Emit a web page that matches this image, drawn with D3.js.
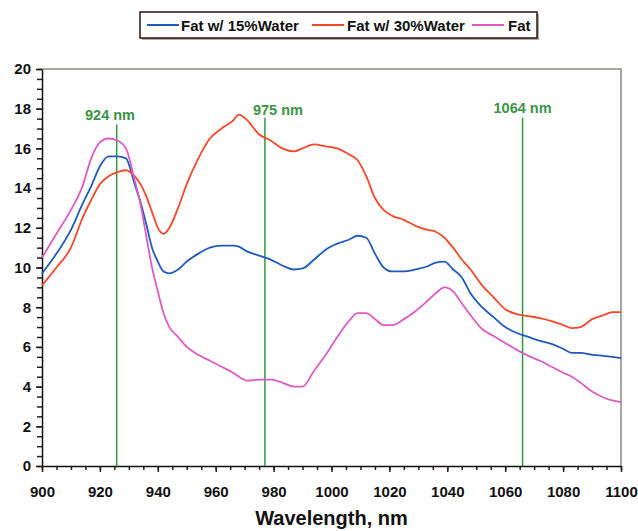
<!DOCTYPE html>
<html>
<head>
<meta charset="utf-8">
<script src="https://cdn.jsdelivr.net/npm/d3@7"></script>
<style>
  body { margin: 0; background: #fff; }
  svg { font-family: 'Liberation Sans', Arial, sans-serif; }
  .tick text { font-weight: bold; font-size: 15px; fill: #111; }
</style>
</head>
<body>
<div id="chart"></div>
<script>
'use strict'

// wavelengths (nm) sampled along the three curves
const wavelengths = [900, 905, 910, 914, 917, 920, 923, 926, 929, 932, 934, 936, 938, 940, 942, 944, 947, 950,
  954, 958, 962, 966, 968, 971, 975, 979, 983, 987, 990, 994, 998, 1002, 1006, 1009, 1012, 1015, 1018, 1021,
  1025, 1029, 1033, 1036, 1039, 1042, 1045, 1048, 1052, 1056, 1060, 1064, 1068, 1072, 1076, 1080, 1083, 1086,
  1090, 1094, 1097, 1100]

const water15 = [9.7, 10.7, 11.9, 13.2, 14.1, 15.1, 15.6, 15.6, 15.5, 14.2, 13.3, 12.2, 11.0, 10.3, 9.8, 9.7, 9.9, 10.3,
  10.7, 11.0, 11.1, 11.1, 11.05, 10.8, 10.6, 10.4, 10.1, 9.9, 9.95, 10.4, 10.9, 11.2, 11.4, 11.6, 11.5, 10.7, 10.0, 9.8,
  9.8, 9.9, 10.05, 10.25, 10.3, 9.9, 9.5, 8.7, 8.0, 7.5, 7.0, 6.7, 6.5, 6.3, 6.15, 5.9, 5.7, 5.7,
  5.6, 5.55, 5.5, 5.44]

const water30 = [9.1, 10.0, 11.0, 12.5, 13.4, 14.2, 14.6, 14.8, 14.9, 14.6, 14.2, 13.6, 12.8, 12.0, 11.7, 12.0, 13.0, 14.2,
  15.5, 16.5, 17.0, 17.4, 17.7, 17.4, 16.7, 16.4, 16.0, 15.85, 16.0, 16.2, 16.1, 16.0, 15.7, 15.4, 14.6, 13.5, 12.9, 12.6,
  12.4, 12.1, 11.9, 11.8, 11.5, 11.0, 10.4, 9.9, 9.1, 8.5, 7.9, 7.65, 7.55, 7.45, 7.3, 7.1, 6.95, 7.0,
  7.4, 7.6, 7.75, 7.75]

const fat = [10.5, 11.7, 12.9, 14.1, 15.5, 16.3, 16.5, 16.4, 16.0, 14.4, 13.2, 11.6, 10.0, 8.8, 7.7, 7.0, 6.5, 6.0,
  5.6, 5.3, 5.0, 4.7, 4.5, 4.3, 4.35, 4.35, 4.2, 4.0, 4.0, 4.8, 5.6, 6.5, 7.3, 7.7, 7.7, 7.4, 7.1, 7.1,
  7.4, 7.8, 8.3, 8.7, 9.0, 8.8, 8.2, 7.6, 6.9, 6.55, 6.2, 5.85, 5.55, 5.3, 5.0, 4.7, 4.5, 4.2,
  3.75, 3.45, 3.3, 3.22]

const seriesNames = ['Fat w/ 15%Water', 'Fat w/ 30%Water', 'Fat']
const seriesColors = ['#1f5bbd', '#f5482a', '#dc5cc4']

// marker lines: where drawn, label text, label position
const markerLabels = ['924 nm', '975 nm', '1064 nm']
const markerX = [925.8, 977, 1066]
const markerTop = [17.2, 17.55, 17.55]
const markerLabelX = [923.5, 981.5, 1066]
const markerLabelY = [17.45, 17.7, 17.8]

const xTicks = [900, 920, 940, 960, 980, 1000, 1020, 1040, 1060, 1080, 1100]
const yTicks = [0, 2, 4, 6, 8, 10, 12, 14, 16, 18, 20]

const width = 638
const height = 531
const margin = { top: 69, right: 17, bottom: 65, left: 42 }

const svg = d3.select('#chart')
  .append('svg')
  .attr('width', width)
  .attr('height', height)

const x = d3.scaleLinear().domain([900, 1100]).range([margin.left, width - margin.right])
const y = d3.scaleLinear().domain([0, 20]).range([height - margin.bottom, margin.top])

// top / right frame
svg.append('path')
  .attr('d', `M${x(900)},${y(20)}H${x(1100)}V${y(0)}`)
  .attr('fill', 'none')
  .attr('stroke', '#a9a6a3')
  .attr('stroke-width', 2)

// minor ticks
svg.append('g')
  .attr('transform', `translate(0,${y(0)})`)
  .call(d3.axisBottom(x).ticks(40).tickSize(4).tickFormat(''))
  .call(g => g.select('.domain').remove())
  .selectAll('line').attr('stroke', '#2a1d18').attr('stroke-width', 1.5)
svg.append('g')
  .attr('transform', `translate(${x(900)},0)`)
  .call(d3.axisLeft(y).ticks(40).tickSize(5).tickFormat(''))
  .call(g => g.select('.domain').remove())
  .selectAll('line').attr('stroke', '#2a1d18').attr('stroke-width', 1.5)

// major axes
const xAxis = svg.append('g')
  .attr('transform', `translate(0,${y(0)})`)
  .call(d3.axisBottom(x).tickValues(xTicks).tickFormat(d3.format('d'))
    .tickSize(6).tickSizeOuter(0).tickPadding(14))
xAxis.select('.domain').attr('stroke', '#111').attr('stroke-width', 1.5)
xAxis.selectAll('.tick line').attr('stroke', '#2a1d18').attr('stroke-width', 1.5)

const yAxis = svg.append('g')
  .attr('transform', `translate(${x(900)},0)`)
  .call(d3.axisLeft(y).tickValues(yTicks).tickSize(6).tickSizeOuter(0).tickPadding(4))
yAxis.select('.domain').attr('stroke', '#111').attr('stroke-width', 1.5)
yAxis.selectAll('.tick line').attr('stroke', '#2a1d18').attr('stroke-width', 1.5)
yAxis.selectAll('.tick text').attr('font-size', 17).attr('dx', -1)

// marker lines
svg.selectAll('line.marker')
  .data(markerX)
  .enter()
  .append('line')
  .attr('class', 'marker')
  .attr('x1', d => x(d))
  .attr('x2', d => x(d))
  .attr('y1', (d, i) => y(markerTop[i]))
  .attr('y2', y(0))
  .attr('stroke', '#2f9a3c')
  .attr('stroke-width', 1.5)

svg.selectAll('text.marker-label')
  .data(markerLabels)
  .enter()
  .append('text')
  .attr('class', 'marker-label')
  .attr('x', (d, i) => x(markerLabelX[i]))
  .attr('y', (d, i) => y(markerLabelY[i]))
  .attr('text-anchor', 'middle')
  .attr('font-size', 14.5)
  .attr('font-weight', 'bold')
  .attr('fill', '#3a9446')
  .text(d => d)

// curves
const series = [water15, water30, fat]
const line = d3.line()
  .x((d, i) => x(wavelengths[i]))
  .y(d => y(d))
  .curve(d3.curveMonotoneX)

svg.selectAll('path.curve')
  .data(series)
  .enter()
  .append('path')
  .attr('class', 'curve')
  .attr('d', line)
  .attr('fill', 'none')
  .attr('stroke', (d, i) => seriesColors[i])
  .attr('stroke-width', 1.8)

// axis title
svg.append('text')
  .attr('x', (x(900) + x(1100)) / 2)
  .attr('y', 525)
  .attr('text-anchor', 'middle')
  .attr('font-size', 20)
  .attr('font-weight', 'bold')
  .attr('fill', '#111')
  .text('Wavelength, nm')

// legend
const legend = svg.append('g')
legend.append('rect')
  .attr('x', 142).attr('y', 14).attr('width', 397).attr('height', 26)
  .attr('fill', '#b4a8a0')
legend.append('rect')
  .attr('x', 140).attr('y', 12).attr('width', 397).attr('height', 26)
  .attr('fill', '#fff').attr('stroke', '#2a1510').attr('stroke-width', 1.5)

const legendLineX = [147, 312, 472]
const legendTextX = [181, 347, 508]
legend.selectAll('line')
  .data(seriesNames)
  .enter()
  .append('line')
  .attr('x1', (d, i) => legendLineX[i])
  .attr('x2', (d, i) => legendLineX[i] + 32)
  .attr('y1', 25).attr('y2', 25)
  .attr('stroke', (d, i) => seriesColors[i])
  .attr('stroke-width', 2)
legend.selectAll('text')
  .data(seriesNames)
  .enter()
  .append('text')
  .attr('x', (d, i) => legendTextX[i])
  .attr('y', 30.5)
  .attr('font-size', 15)
  .attr('font-weight', 'bold')
  .attr('fill', '#111')
  .text(d => d)
</script>
</body>
</html>
